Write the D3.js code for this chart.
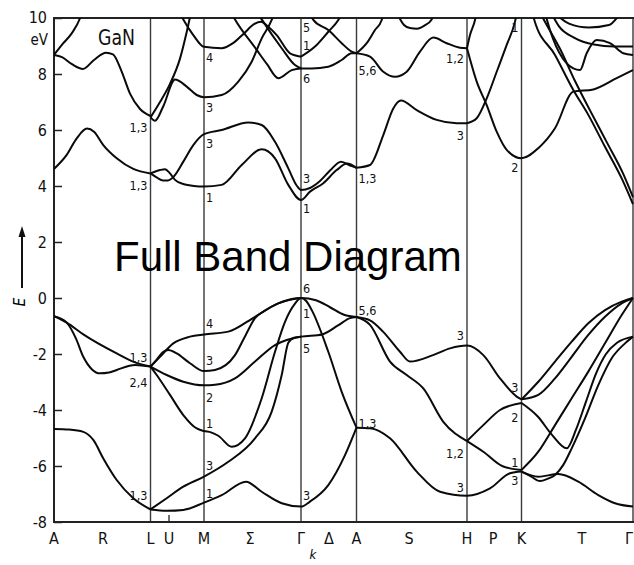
<!DOCTYPE html>
<html><head><meta charset="utf-8">
<script src="https://cdn.jsdelivr.net/npm/d3@7"></script>
<style>
body{margin:0;background:#fff;}
svg{display:block;}
.tick-lbl{font-family:'Liberation Sans Narrow','DejaVu Sans Condensed',sans-serif;}
</style></head>
<body>
<svg id="chart" width="634" height="565"></svg>
<script>
// ---------- data ----------
const yTicks = [-8,-6,-4,-2,0,2,4,6,8,10];
const symLines = [96.5,150,247,302.5,413,467.5,579];            // L, M, Γ, A, H, K, Γ
const kLabels = ["A","R","L","U","M","Σ","Γ","Δ","A","S","H","P","K","T","Γ"];
const kLabelPos = [0,49,96.5,115,150,196,247,275,302.5,355,413,439,467.5,528,575];
const symK = {L:96.5,M:150,G:247,A:302.5,H:413,K:467.5};

const valenceBands = [
 [[0,-0.65],[12.7,-0.88],[29.3,-1.3],[62.7,-1.98],[81,-2.3],[96.5,-2.45]],
 [[0,-0.65],[12.7,-0.88],[22,-1.45],[29.3,-2.1],[38,-2.55],[46,-2.69],[55,-2.66],[62.7,-2.57],[81,-2.39],[96.5,-2.45]],
 [[0,-4.68],[15,-4.7],[29.3,-4.78],[39.3,-5.07],[49.3,-5.73],[62.7,-6.5],[79.3,-7.15],[96.5,-7.55]],
 [[96.5,-2.45],[106,-2.1],[119.3,-1.62],[136,-1.38],[150,-1.3],[174.3,-1.2],[201,-0.67],[224.3,-0.19],[247,0],[262,-0.08],[276,-0.33],[290,-0.6],[302.5,-0.68]],
 [[96.5,-2.45],[102.7,-2.2],[109.3,-1.92],[114.3,-1.86],[122.7,-1.98],[136,-2.33],[150,-2.61],[161,-2.57],[181,-2.04],[192,-1.3],[201,-0.72],[210,-0.47],[224.3,-0.19],[247,0]],
 [[96.5,-2.45],[112.7,-2.75],[129.3,-2.99],[150,-3.12],[161,-3.1],[181,-2.87],[201,-2.27],[221,-1.68],[232.7,-1.5],[247,-1.38],[268,-1.3],[284,-0.98],[296,-0.72],[302.5,-0.68]],
 [[96.5,-2.45],[102.7,-2.75],[116,-3.46],[129.3,-4.18],[142.7,-4.66],[150,-4.75],[157,-4.8],[164.3,-4.92],[177.7,-5.31],[191,-5.01],[207.7,-3.58],[221,-1.92],[231,-0.85],[241,-0.2],[247,0],[252,-0.1],[258,-0.45],[274.3,-1.92],[287.7,-3.35],[302.5,-4.63]],
 [[96.5,-7.55],[112.7,-7.15],[129.3,-6.74],[150,-6.38],[174.3,-5.85],[201,-5.01],[217.7,-4.06],[227.7,-2.75],[234.3,-1.6],[240,-1.42],[247,-1.38]],
 [[96.5,-7.55],[112.7,-7.6],[129.3,-7.57],[150,-7.31],[167.7,-7.04],[192,-6.56],[207.7,-6.92],[227.7,-7.33],[247,-7.45],[256,-7.27],[274.3,-6.68],[291,-5.61],[302.5,-4.63]],
 [[302.5,-0.68],[316,-0.8],[329,-1.2],[346,-1.92],[356,-2.27],[379,-2.04],[396,-1.8],[413,-1.7],[429.3,-2.04],[446,-2.87],[462.7,-3.52],[467.5,-3.62]],
 [[302.5,-0.68],[316,-0.96],[336,-2.27],[352.7,-2.75],[369.3,-3.23],[389.3,-4.42],[413,-5.11]],
 [[413,-5.11],[429.3,-4.54],[446,-4.0],[467.5,-3.75]],
 [[413,-5.11],[429.3,-5.49],[449.3,-6.02],[467.5,-6.14]],
 [[302.5,-4.63],[316,-4.65],[336,-5.01],[362.7,-6.2],[386,-6.92],[413,-7.06],[436,-6.8],[456,-6.26],[467.5,-6.2]],
 [[467.5,-3.62],[484.3,-2.99],[501,-2.27],[517.7,-1.56],[534.3,-0.9],[551,-0.43],[567.7,-0.13],[579,0]],
 [[467.5,-3.62],[484.3,-3.46],[501,-2.87],[517.7,-2.1],[534.3,-1.32],[551,-0.67],[567.7,-0.19],[579,0]],
 [[467.5,-3.75],[484,-4.24],[498,-4.89],[512.7,-5.37],[522,-4.7],[532,-3.7],[542,-2.7],[552,-2.0],[563,-1.6],[579,-1.38]],
 [[467.5,-6.14],[484.3,-5.49],[501,-4.54],[517.7,-3.58],[534.3,-2.63],[551,-1.62],[567.7,-0.61],[579,0]],
 [[467.5,-6.2],[476,-6.35],[486,-6.54],[494,-6.45],[501,-6.32],[509.3,-5.96],[517.7,-5.37],[531,-4.3],[544.3,-3.11],[557.7,-2.15],[571,-1.62],[579,-1.38]],
 [[467.5,-6.2],[484.3,-6.38],[504.3,-6.29],[524.3,-6.56],[544.3,-7.04],[561,-7.33],[579,-7.45]]
];

const conductionBands = [
 [[0,4.61],[12.7,5.11],[22.7,5.7],[33,6.05],[40,5.94],[49.3,5.46],[62.7,4.99],[79.3,4.61],[96.5,4.45]],
 [[96.5,4.45],[106,4.57],[111,4.6],[116,4.45],[121,4.22],[130,4.06],[140,4.0],[150,3.98],[167.7,4.04],[187.7,4.75],[207.7,5.31],[221,4.99],[234.3,4.04],[247,3.5],[256,3.8],[269.3,4.1],[282.7,4.57],[293,4.8],[302.5,4.65]],
 [[96.5,4.45],[103,4.3],[109,4.2],[114,4.2],[120,4.35],[129.3,4.87],[139.3,5.46],[150,5.85],[167.7,6.0],[194.3,6.27],[207.7,6.18],[221,5.58],[234.3,4.63],[243,4.0],[247,3.86],[256,3.93],[266,4.18],[276,4.55],[287,4.87],[297,4.72],[302.5,4.65]],
 [[0,8.68],[9.3,9.1],[17.7,9.45],[26,9.99],[28,10.2]],
 [[0,8.68],[8,8.6],[18,8.35],[29,8.18],[40,8.5],[52,8.76],[59,8.7],[67,8.15],[76,7.3],[86,6.75],[96.5,6.5]],
 [[96.5,6.45],[106,7.0],[116,7.65],[126,8.55],[132.7,9.5],[137,10.2]],
 [[96.5,6.45],[101,6.33],[109.3,6.85],[121,7.8],[132.7,7.55],[142.7,7.25],[150,7.17],[167.7,7.25],[184.3,7.73],[197.7,8.44],[207.7,9.27],[217.7,9.93],[220,10.15]],
 [[127,10.1],[129.3,9.95],[139.3,9.39],[150,8.97],[167.7,8.92],[179,9.1],[190,9.45],[200,9.78],[207,9.87],[214,9.7],[222.7,9.39],[236,8.74],[247,8.62]],
 [[177,10.2],[181,9.95],[202.7,8.86],[213,8.35],[224.3,7.85],[237.7,8.14],[247,8.2],[257.7,8.2],[274.3,8.26],[287.7,8.5],[297.7,8.74],[302.5,8.74]],
 [[205,10.1],[207.7,9.95],[227.7,8.92],[241,8.32],[247,8.2]],
 [[247,8.62],[261,8.98],[274.3,9.51],[284.3,9.93],[287,10.1]],
 [[257,10.1],[259.3,9.93],[274.3,9.57],[287.7,9.1],[297.7,8.8],[302.5,8.74]],
 [[302.5,8.74],[312.7,9.1],[321,9.57],[327.7,9.93],[329,10.1]],
 [[302.5,8.74],[316,8.62],[329.3,8.08],[341,7.9],[352.7,8.08],[366,8.8],[379.3,9.3],[392.7,9.1],[406,8.94],[413,8.92]],
 [[344,10.1],[350,9.75],[356,9.64],[363,9.62],[370,9.72],[377.7,9.95],[379,10.1]],
 [[413,8.92],[416,9.39],[421,9.93],[422,10.1]],
 [[413,8.92],[422.7,7.73],[432.7,6.89],[442.7,5.94],[452.7,5.29],[467.5,4.99],[484.3,5.35],[501,6.06],[519.3,7.37],[539.3,7.45],[562.7,7.85],[579,8.14]],
 [[413,6.24],[422.7,6.42],[432.7,7.13],[442.7,8.08],[452.7,9.04],[461,9.87],[463,10.2]],
 [[302.5,4.65],[316,4.75],[329.3,5.82],[339.3,6.77],[347,7.05],[362.7,6.71],[382.7,6.36],[402.7,6.24],[413,6.24]],
 [[479,10.2],[480.3,9.93],[501,8.68],[519.3,7.43],[534.3,6.54],[551,5.4],[567.7,4.27],[579,3.35]],
 [[486,10.2],[490,9.93],[506,8.9],[521,7.75],[536,6.7],[553,5.55],[569,4.45],[579,3.6]],
 [[491,10.2],[493,9.93],[519.3,8.2],[526,8.14],[532.7,8.74],[542.7,9.21],[556,9.1],[569.3,8.74],[579,8.68]],
 [[497,10.2],[505,9.7],[520,9.3],[540,9.05],[560,8.98],[579,8.98]],
 [[503,10.1],[515,9.8],[535,9.66],[555,9.75],[565,10.1]]
];

// symmetry labels: text, symmetry point, side, energy at baseline
const bandLabels = [
 ["1,3","L","l",5.93],["1,3","L","l",3.86],["4","M","r",8.43],["3","M","r",6.64],["3","M","r",5.36],["1","M","r",3.43],
 ["5","G","r",9.5],["1","G","r",8.86],["6","G","r",7.68],["3","G","r",4.11],["1","G","r",3.04],
 ["5,6","A","r",7.96],["1,3","A","r",4.11],["1,2","H","l",8.39],["3","H","l",5.64],["2","K","l",4.5],["1","K","l",9.5],
 ["6","G","r",0.18],["1","G","r",-0.71],["5","G","r",-1.96],["4","M","r",-1.07],["3","M","r",-2.39],["2","M","r",-3.71],
 ["1","M","r",-4.64],["3","M","r",-6.14],["1","M","r",-7.14],["3","G","r",-7.21],
 ["1,3","L","l",-2.29],["2,4","L","l",-3.18],["1,3","L","l",-7.21],["5,6","A","r",-0.61],["1,3","A","r",-4.64],
 ["3","H","l",-1.5],["1,2","H","l",-5.71],["3","H","l",-6.93],["3","K","l",-3.36],["2","K","l",-4.43],["1","K","l",-6.04],["3","K","l",-6.68]
];

// ---------- drawing ----------
const pL = 54, pR = 633, pT = 18, pB = 522;
const svg = d3.select("#chart");
const x = d3.scaleLinear().domain([0,579]).range([pL,pR]);
const y = d3.scaleLinear().domain([-8,10]).range([pB,pT]);

svg.append("defs").append("clipPath").attr("id","clip")
  .append("rect").attr("x",pL).attr("y",pT).attr("width",pR-pL+2).attr("height",pB-pT);

// symmetry vertical lines
svg.append("g").selectAll("line").data(symLines).join("line")
  .attr("x1",d=>x(d)).attr("x2",d=>x(d)).attr("y1",pT).attr("y2",pB)
  .attr("stroke","#3a3a3a").attr("stroke-width",1.4);

// frame
svg.append("line").attr("x1",pL).attr("x2",pR+1).attr("y1",pT).attr("y2",pT).attr("stroke","#222").attr("stroke-width",2);
svg.append("line").attr("x1",pL).attr("x2",pR+1).attr("y1",pB).attr("y2",pB).attr("stroke","#222").attr("stroke-width",2);
svg.append("line").attr("x1",pL).attr("x2",pL).attr("y1",pT-1).attr("y2",pB+1).attr("stroke","#222").attr("stroke-width",2);

// y axis ticks (inward) & labels
const yAxis = d3.axisLeft(y).tickValues(yTicks).tickSize(-8).tickPadding(7).tickFormat(d=>d<0?"-"+Math.abs(d):d);
const gy = svg.append("g").attr("transform",`translate(${pL},0)`).call(yAxis);
gy.select(".domain").remove();
gy.selectAll(".tick line").attr("stroke","#222").attr("stroke-width",1.5);
gy.selectAll(".tick text").attr("class","tick-lbl").attr("font-size",16).attr("fill","#111").attr("dy","0.35em");
gy.selectAll(".tick").filter(d=>d===10).select("text").attr("dy","0.3em");

// U tick
svg.append("line").attr("x1",x(kLabelPos[3])).attr("x2",x(kLabelPos[3])).attr("y1",pB).attr("y2",pB-7).attr("stroke","#222").attr("stroke-width",1.3);

// bands
const line = d3.line().x(d=>x(d[0])).y(d=>y(d[1])).curve(d3.curveMonotoneX);
const gb = svg.append("g").attr("clip-path","url(#clip)");
gb.selectAll("path.v").data(valenceBands).join("path").attr("class","v")
  .attr("d",line).attr("fill","none").attr("stroke","#0a0a0a").attr("stroke-width",2);
gb.selectAll("path.c").data(conductionBands).join("path").attr("class","c")
  .attr("d",line).attr("fill","none").attr("stroke","#0a0a0a").attr("stroke-width",2);

// band symmetry labels
svg.append("g").selectAll("text").data(bandLabels).join("text")
  .attr("class","tick-lbl").attr("font-size",12.5).attr("fill","#111")
  .attr("x",d=>x(symK[d[1]]) + (d[2]==="r"?2:-3))
  .attr("y",d=>y(d[3]))
  .attr("text-anchor",d=>d[2]==="r"?"start":"end")
  .text(d=>d[0]);

// k labels
svg.append("g").selectAll("text").data(kLabels).join("text")
  .attr("class","tick-lbl").attr("font-size",16).attr("fill","#111")
  .attr("x",(d,i)=>x(kLabelPos[i])).attr("y",544).attr("text-anchor","middle").text(d=>d);

// unit and axis labels
svg.append("text").attr("class","tick-lbl").attr("x",48).attr("y",45).attr("text-anchor","end").attr("font-size",15).attr("fill","#111").text("eV");
svg.append("text").attr("class","tick-lbl").attr("x",98).attr("y",45).attr("font-size",21).attr("fill","#111")
  .attr("textLength",37).attr("lengthAdjust","spacingAndGlyphs").text("GaN");
svg.append("text").attr("x",313).attr("y",559).attr("font-family","'DejaVu Sans Condensed',sans-serif").attr("font-style","italic").attr("font-size",13).attr("text-anchor","middle").text("k");
svg.append("text").attr("transform","translate(25,302) rotate(-90)").attr("font-family","'DejaVu Sans Condensed',sans-serif").attr("font-style","italic").attr("font-size",15).attr("text-anchor","middle").text("E");
// arrow
svg.append("line").attr("x1",22).attr("x2",22).attr("y1",288).attr("y2",234).attr("stroke","#111").attr("stroke-width",2);
svg.append("path").attr("d",d3.line()([[18.5,237],[22,226],[25.5,237]])+"Z").attr("fill","#111");

// title overlay
svg.append("text").attr("x",114).attr("y",271).attr("font-family","'Liberation Sans',Arial,sans-serif").attr("font-size",42).attr("fill","#000").text("Full Band Diagram");
</script>
</body></html>
